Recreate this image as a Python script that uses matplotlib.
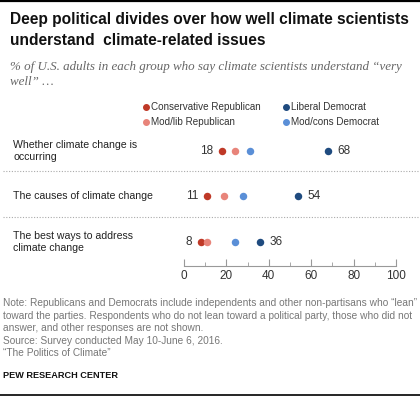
import matplotlib
matplotlib.use("Agg")
import matplotlib.pyplot as plt
from matplotlib.lines import Line2D
from matplotlib.transforms import blended_transform_factory

# data
questions = ["Whether climate change is\noccurring",
             "The causes of climate change",
             "The best ways to address\nclimate change"]
groups = ["Conservative Republican", "Mod/lib Republican",
          "Mod/cons Democrat", "Liberal Democrat"]
cons_rep = [18, 11, 8]
modlib_rep = [24, 19, 11]
modcons_dem = [31, 28, 24]
lib_dem = [68, 54, 36]
xticks = [0, 20, 40, 60, 80, 100]

colors = ["#bf3927", "#e8847a", "#5a8fd7", "#1f4b7f"]
series = [cons_rep, modlib_rep, modcons_dem, lib_dem]

plt.rcParams["font.family"] = ["Liberation Sans Narrow", "Liberation Sans", "DejaVu Sans"]

W, H = 420, 397
fig = plt.figure(figsize=(W / 100, H / 100), dpi=100)

def fx(px):
    return px / W

def fy(py):
    return 1 - py / H

# axes: x 184..396 px, y 135..266 px
ax = fig.add_axes([fx(184), fy(266), fx(396) - fx(184), (266 - 135) / H])
ax.set_xlim(0, 100)
ax.set_ylim(len(questions) - 0.47, -0.35)

for vals, col in zip(series, colors):
    ax.scatter(vals, range(len(questions)), s=29, color=col, zorder=3,
               linewidths=0)

for i in range(len(questions)):
    ax.annotate(str(cons_rep[i]), (cons_rep[i], i), xytext=(-6.5, 0),
                textcoords="offset points", ha="right", va="center",
                fontsize=8.5, color="#333333")
    ax.annotate(str(lib_dem[i]), (lib_dem[i], i), xytext=(6.5, 0),
                textcoords="offset points", ha="left", va="center",
                fontsize=8.5, color="#333333")

ax.set_yticks([])
ax.set_xticks(xticks)
ax.set_xticks(range(10, 100, 20), minor=True)
ax.tick_params(axis="x", which="major", direction="in", length=5,
               color="#999999", labelsize=8.5, labelcolor="#333333", pad=3)
ax.tick_params(axis="x", which="minor", direction="in", length=3,
               color="#999999")
for side in ["top", "left", "right"]:
    ax.spines[side].set_visible(False)
ax.spines["bottom"].set_color("#999999")
ax.patch.set_alpha(0)

# row labels and dotted separators
tr = blended_transform_factory(fig.transFigure, ax.transData)
for i, q in enumerate(questions):
    fig.text(fx(13), 0, q, transform=tr, fontsize=7.6, color="#222222",
             va="center", ha="left", linespacing=1.2).set_y(i)
for i in range(len(questions) - 1):
    fig.add_artist(Line2D([fx(3), 1], [i + 0.45, i + 0.45], transform=tr,
                          color="#aaaaaa", linestyle=(0, (1, 1.5)),
                          linewidth=0.8))

# title block
fig.text(fx(10), fy(12), "Deep political divides over how well climate scientists\n"
         "understand  climate-related issues", fontsize=11.2, fontweight="bold",
         va="top", ha="left", color="#111111", linespacing=1.5)
fig.text(fx(10), fy(61), "% of U.S. adults in each group who say climate scientists "
         "understand \u201cvery\nwell\u201d \u2026", fontsize=9.4, style="italic",
         family=["Liberation Serif", "DejaVu Serif"], va="top", ha="left",
         color="#666666", linespacing=1.35)

# legend
leg_pos = [(146, 107), (146, 122), (286, 122), (286, 107)]
for (px, py), g, col in zip(leg_pos, groups, colors):
    fig.add_artist(Line2D([fx(px)], [fy(py)], marker="o", markersize=4,
                          color=col, linestyle="none"))
    fig.text(fx(px + 5), fy(py), g, fontsize=7.1, color="#333333",
             va="center", ha="left")

# note and source
fig.text(fx(3), fy(298), "Note: Republicans and Democrats include independents and other "
         "non-partisans who \u201clean\u201d\ntoward the parties. Respondents who do not "
         "lean toward a political party, those who did not\nanswer, and other responses "
         "are not shown.\nSource: Survey conducted May 10-June 6, 2016.\n"
         "\u201cThe Politics of Climate\u201d", fontsize=7.3, color="#777777",
         va="top", ha="left", linespacing=1.32)
fig.text(fx(3), fy(375), "PEW RESEARCH CENTER", fontsize=6.6, fontweight="bold",
         color="#111111", va="center", ha="left")

fig.add_artist(Line2D([0, 1], [fy(1), fy(1)], color="black", linewidth=1.6))
fig.add_artist(Line2D([0, 1], [fy(395), fy(395)], color="black", linewidth=1.2))

fig.savefig("out.png", dpi=100, facecolor="white")
